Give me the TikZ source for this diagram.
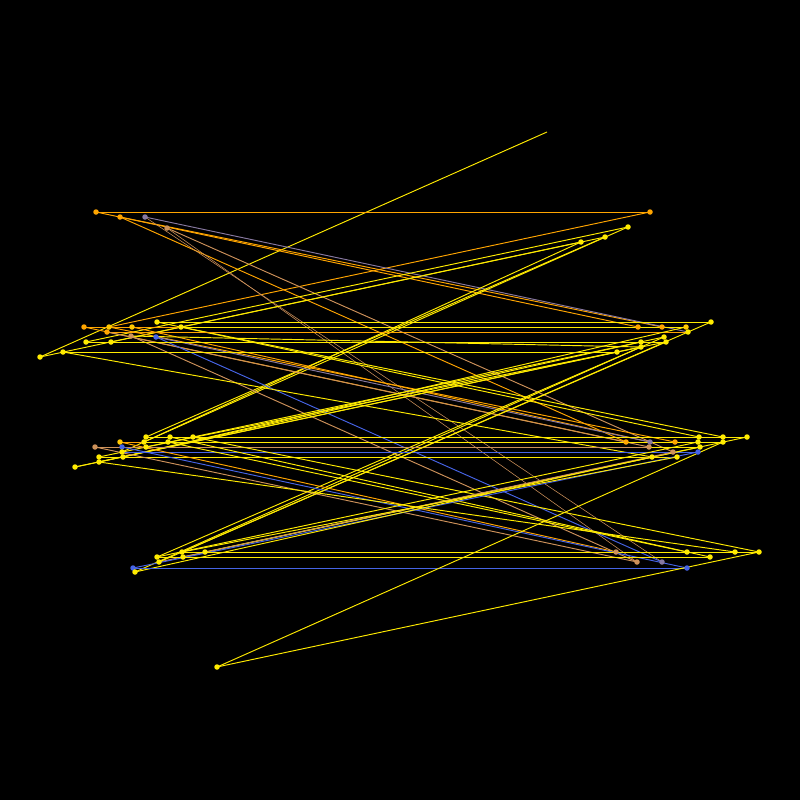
\documentclass[tikz,border=0pt]{standalone}
\pgfdeclarelayer{back}
\pgfdeclarelayer{bg}
\pgfsetlayers{back,bg,main}
\definecolor{cY}{RGB}{255,235,0}
\definecolor{cO}{RGB}{255,165,0}
\definecolor{cG}{RGB}{255,200,0}
\definecolor{cT}{RGB}{205,145,90}
\definecolor{cP}{RGB}{135,120,160}
\definecolor{cB}{RGB}{70,100,230}
\newcommand\E[3]{\draw[ln=#3] (#1.center)--(#2.center);}
\newcommand\Et[3]{\draw[ln=#3,line width=0.55pt] (#1.center)--(#2.center);}
\begin{document}
\begin{tikzpicture}[x=1pt,y=-1pt,
  dot/.style={circle,fill=#1,inner sep=0pt,minimum size=5.5pt},
  ln/.style={draw=#1,line width=0.95pt}]
\begin{pgfonlayer}{back}
\fill[black] (0,0) rectangle (800,800);
\end{pgfonlayer}
\useasboundingbox (0,0) rectangle (800,800);
% band 1
\node[dot=cO] (a1) at (96,212) {};
\node[dot=cO] (a2) at (120,217) {};
\node[dot=cP] (a3) at (145,217) {};
\node[dot=cT] (a4) at (167,228) {};
\node[dot=cO] (b1) at (650,212) {};
\node[dot=cY] (b2) at (628,227) {};
\node[dot=cY] (b3) at (605,237) {};
\node[dot=cY] (b4) at (581,242) {};
\coordinate (p) at (547,132);
\node[dot=cY] (q) at (217,667) {};
% band 2 left
\node[dot=cO] (c1) at (84,327) {};
\node[dot=cG] (c2) at (109,327) {};
\node[dot=cG] (c3) at (132,327) {};
\node[dot=cY] (c4) at (157,322) {};
\node[dot=cY] (c5) at (181,327) {};
\node[dot=cO] (c6) at (107,332) {};
\node[dot=cT] (c7) at (131,336) {};
\node[dot=cB] (c8) at (156,337) {};
\node[dot=cY] (c9) at (86,342) {};
\node[dot=cY] (c10) at (111,342) {};
\node[dot=cY] (c11) at (63,352) {};
\node[dot=cY] (c12) at (40,357) {};
% band 2 right
\node[dot=cY] (d1) at (711,322) {};
\node[dot=cO] (d2) at (638,327) {};
\node[dot=cO] (d3) at (662,327) {};
\node[dot=cG] (d4) at (686,327) {};
\node[dot=cY] (d5) at (688,332) {};
\node[dot=cY] (d6) at (664,337) {};
\node[dot=cY] (d7) at (666,342) {};
\node[dot=cY] (d8) at (641,342) {};
\node[dot=cY] (d9) at (641,347) {};
\node[dot=cY] (d10) at (617,352) {};
% band 3 left
\node[dot=cY] (e1) at (146,437) {};
\node[dot=cY] (e2) at (170,437) {};
\node[dot=cY] (e3) at (193,437) {};
\node[dot=cG] (e4) at (120,442) {};
\node[dot=cY] (e5) at (144,442) {};
\node[dot=cY] (e6) at (168,442) {};
\node[dot=cT] (e7) at (95,447) {};
\node[dot=cB] (e8) at (122,447) {};
\node[dot=cY] (e9) at (146,447) {};
\node[dot=cY] (e10) at (122,452) {};
\node[dot=cY] (e11) at (99,457) {};
\node[dot=cY] (e12) at (123,457) {};
\node[dot=cY] (e13) at (99,462) {};
\node[dot=cY] (e14) at (75,467) {};
% band 3 right
\node[dot=cY] (f1) at (747,437) {};
\node[dot=cY] (f2) at (723,437) {};
\node[dot=cY] (f3) at (699,437) {};
\node[dot=cY] (f4) at (723,442) {};
\node[dot=cY] (f5) at (698,442) {};
\node[dot=cO] (f6) at (675,442) {};
\node[dot=cO] (f7) at (626,442) {};
\node[dot=cP] (f8) at (650,442) {};
\node[dot=cT] (f9) at (649,447) {};
\node[dot=cY] (f10) at (700,447) {};
\node[dot=cT] (f11) at (673,452) {};
\node[dot=cB] (f12) at (698,452) {};
\node[dot=cY] (f13) at (652,457) {};
\node[dot=cY] (f14) at (677,457) {};
% band 4 left
\node[dot=cY] (g1) at (182,552) {};
\node[dot=cY] (g2) at (205,552) {};
\node[dot=cY] (g3) at (157,557) {};
\node[dot=cY] (g4) at (183,557) {};
\node[dot=cY] (g5) at (159,562) {};
\node[dot=cB] (g6) at (133,568) {};
\node[dot=cY] (g7) at (135,572) {};
% band 4 right
\node[dot=cY] (h1) at (759,552) {};
\node[dot=cY] (h2) at (735,552) {};
\node[dot=cY] (h3) at (687,552) {};
\node[dot=cY] (h4) at (710,557) {};
\node[dot=cT] (h5) at (637,562) {};
\node[dot=cP] (h6) at (662,562) {};
\node[dot=cB] (h7) at (687,568) {};
\node[dot=cT] (h8) at (616,552) {};
\begin{pgfonlayer}{bg}
\E{p}{c12}{cY}
\E{c12}{b4}{cY}
\E{a1}{b1}{cO}
\E{b1}{c2}{cO}
\E{a1}{d2}{cO}
\E{a2}{d3}{cO}
\E{a2}{f7}{cO}
\E{a3}{d5}{cP}
\Et{a3}{h6}{cT}
\E{a4}{f11}{cT}
\Et{a4}{h5}{cT}
\E{b2}{c9}{cY}
\E{b2}{e5}{cY}
\E{b3}{c10}{cY}
\E{b3}{e1}{cY}
\E{b4}{e10}{cY}
\E{c1}{d2}{cO}
\E{c1}{f7}{cO}
\E{c2}{f6}{cO}
\E{c3}{d3}{cO}
\E{c3}{f8}{cO}
\E{c4}{d1}{cY}
\E{c4}{f3}{cY}
\E{c5}{d4}{cY}
\E{c5}{f2}{cY}
\E{c6}{d5}{cO}
\E{c6}{f9}{cT}
\E{c7}{h5}{cT}
\E{c7}{d9}{cY}
\E{c8}{h6}{cB}
\E{c8}{f8}{cP}
\E{c9}{d8}{cY}
\E{c10}{d7}{cY}
\E{c11}{d10}{cY}
\E{c11}{f13}{cY}
\E{d1}{g1}{cY}
\E{d4}{e12}{cY}
\E{d6}{e11}{cY}
\E{d6}{g3}{cY}
\E{d7}{e9}{cY}
\E{d8}{e13}{cY}
\E{d9}{g7}{cY}
\E{d10}{e14}{cY}
\E{e14}{d9}{cY}
\E{e1}{f3}{cY}
\E{e2}{f2}{cY}
\E{e3}{f1}{cY}
\E{e4}{f6}{cO}
\E{e5}{f5}{cY}
\E{e6}{f4}{cY}
\E{e9}{f10}{cY}
\E{e10}{f12}{cB}
\E{e11}{f13}{cY}
\E{e12}{f14}{cY}
\E{e7}{f9}{cT}
\E{e2}{h4}{cY}
\E{e3}{h1}{cY}
\E{e4}{h8}{cO}
\E{e6}{h3}{cY}
\E{e7}{h5}{cT}
\E{e8}{h7}{cB}
\E{e13}{h2}{cY}
\E{f1}{g2}{cY}
\E{f5}{g3}{cY}
\E{f10}{g4}{cY}
\E{f11}{g5}{cT}
\E{f12}{g6}{cB}
\E{f13}{g7}{cY}
\E{f14}{g1}{cY}
\E{g5}{d7}{cY}
\E{g1}{h2}{cY}
\E{g2}{h1}{cY}
\E{g3}{h4}{cY}
\E{g6}{h7}{cB}
\E{q}{h1}{cY}
\E{q}{f4}{cY}
\end{pgfonlayer}
\end{tikzpicture}
\end{document}
